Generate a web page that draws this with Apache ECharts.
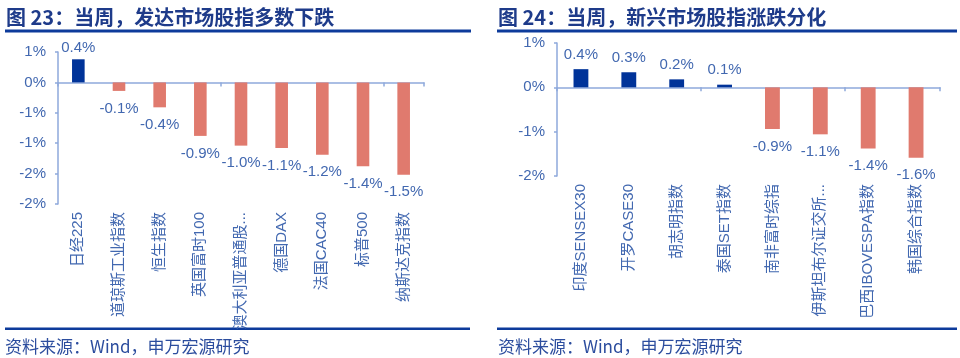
<!DOCTYPE html>
<html>
<head>
<meta charset="utf-8">
<script src="https://cdn.jsdelivr.net/npm/echarts@6/dist/echarts.min.js"></script>
<style>
html,body{margin:0;padding:0;background:#fff;}
#c{width:960px;height:358px;}
</style>
</head>
<body>
<div id="c"></div>
<script>
// ---- data ----
const leftTitle = '图 23：当周，发达市场股指多数下跌';
const rightTitle = '图 24：当周，新兴市场股指涨跌分化';
const sourceText = '资料来源：Wind，申万宏源研究';
const leftCategories = ['日经225','道琼斯工业指数','恒生指数','英国富时100','澳大利亚普通股...','德国DAX','法国CAC40','标普500','纳斯达克指数'];
const leftValues = [0.38,-0.14,-0.41,-0.88,-1.04,-1.08,-1.19,-1.38,-1.52];
const rightCategories = ['印度SENSEX30','开罗CASE30','胡志明指数','泰国SET指数','南非富时综指','伊斯坦布尔证交所...','巴西IBOVESPA指数','韩国综合指数'];
const rightValues = [0.41,0.34,0.18,0.06,-0.94,-1.06,-1.38,-1.59];
const leftAxis = {min:-2, max:0.5, interval:0.5};
const rightAxis = {min:-2, max:1, interval:1};

// ---- style ----
const POS = '#003399', NEG = '#E07A6E';
const AX = '#8EA9DB';
const TXT = '#4268B0';
const NAVY = '#1E3B8A';
const LINE = '#0D3B9B';
const latin = '"Liberation Sans", "Noto Sans CJK SC", sans-serif';
const cjk = '"Noto Sans CJK SC", sans-serif';

function pctRound(v){
  const r = Math.sign(v) * Math.round(Math.abs(v));
  return (r === 0 ? 0 : r) + '%';
}
function makeData(vals, dPos, dNeg){
  return vals.map(v => ({
    value: v,
    itemStyle: {color: v >= 0 ? POS : NEG},
    label: {position: v >= 0 ? 'top' : 'bottom', distance: v >= 0 ? dPos : dNeg}
  }));
}
function yAxisCfg(gi, r){
  return {
    type:'value', gridIndex:gi, min:r.min, max:r.max, interval:r.interval,
    splitLine:{show:false},
    axisLine:{show:true, lineStyle:{color:AX, width:1.5}},
    axisTick:{show:true, length:3, lineStyle:{color:AX, width:1.5}},
    axisLabel:{formatter:pctRound, color:TXT, fontSize:15, fontFamily:latin, margin:12}
  };
}
function xZeroCfg(gi, cats){
  return {
    type:'category', gridIndex:gi, data:cats, position:'bottom',
    axisLine:{show:true, onZero:true, lineStyle:{color:AX, width:1.5}},
    axisTick:{show:true, length:4, lineStyle:{color:AX, width:1.5}},
    axisLabel:{show:false}
  };
}
function xLabelCfg(gi, cats){
  return {
    type:'category', gridIndex:gi, data:cats, position:'bottom',
    axisLine:{show:false, onZero:false},
    axisTick:{show:false},
    axisLabel:{rotate:90, color:TXT, fontSize:15, fontFamily:latin, margin:8, interval:0}
  };
}

const chart = echarts.init(document.getElementById('c'), null, {renderer:'canvas'});
chart.setOption({
  animation:false,
  backgroundColor:'#fff',
  grid:[
    {left:58, top:52, width:366, height:152},
    {left:557, top:43, width:383, height:133}
  ],
  xAxis:[
    xLabelCfg(0, leftCategories),
    xZeroCfg(0, leftCategories),
    xLabelCfg(1, rightCategories),
    xZeroCfg(1, rightCategories)
  ],
  yAxis:[yAxisCfg(0, leftAxis), yAxisCfg(1, rightAxis)],
  series:[
    {type:'bar', xAxisIndex:1, yAxisIndex:0, barWidth:'31%',
     data:makeData(leftValues, 4, 10),
     label:{show:true, color:TXT, fontSize:15, fontFamily:latin, formatter:p=>p.value.toFixed(1)+'%'}},
    {type:'bar', xAxisIndex:3, yAxisIndex:1, barWidth:'31%',
     data:makeData(rightValues, 7, 10),
     label:{show:true, color:TXT, fontSize:15, fontFamily:latin, formatter:p=>p.value.toFixed(1)+'%'}}
  ],
  graphic:[
    {type:'text', left:6, top:7, style:{text:leftTitle, font:'bold 20px '+cjk, fill:NAVY}},
    {type:'text', left:498, top:7, style:{text:rightTitle, font:'bold 20px '+cjk, fill:NAVY}},
    {type:'rect', shape:{x:5, y:29.5, width:466, height:3}, style:{fill:LINE}},
    {type:'rect', shape:{x:497, y:29.5, width:460, height:3}, style:{fill:LINE}},
    {type:'rect', shape:{x:5, y:327.5, width:465, height:2.5}, style:{fill:LINE}},
    {type:'rect', shape:{x:497, y:327.5, width:460, height:2.5}, style:{fill:LINE}},
    {type:'text', left:5, top:338, style:{text:sourceText, font:'17px '+cjk, fill:'#2C4D9E'}},
    {type:'text', left:498, top:338, style:{text:sourceText, font:'17px '+cjk, fill:'#2C4D9E'}}
  ]
});
</script>
</body>
</html>
